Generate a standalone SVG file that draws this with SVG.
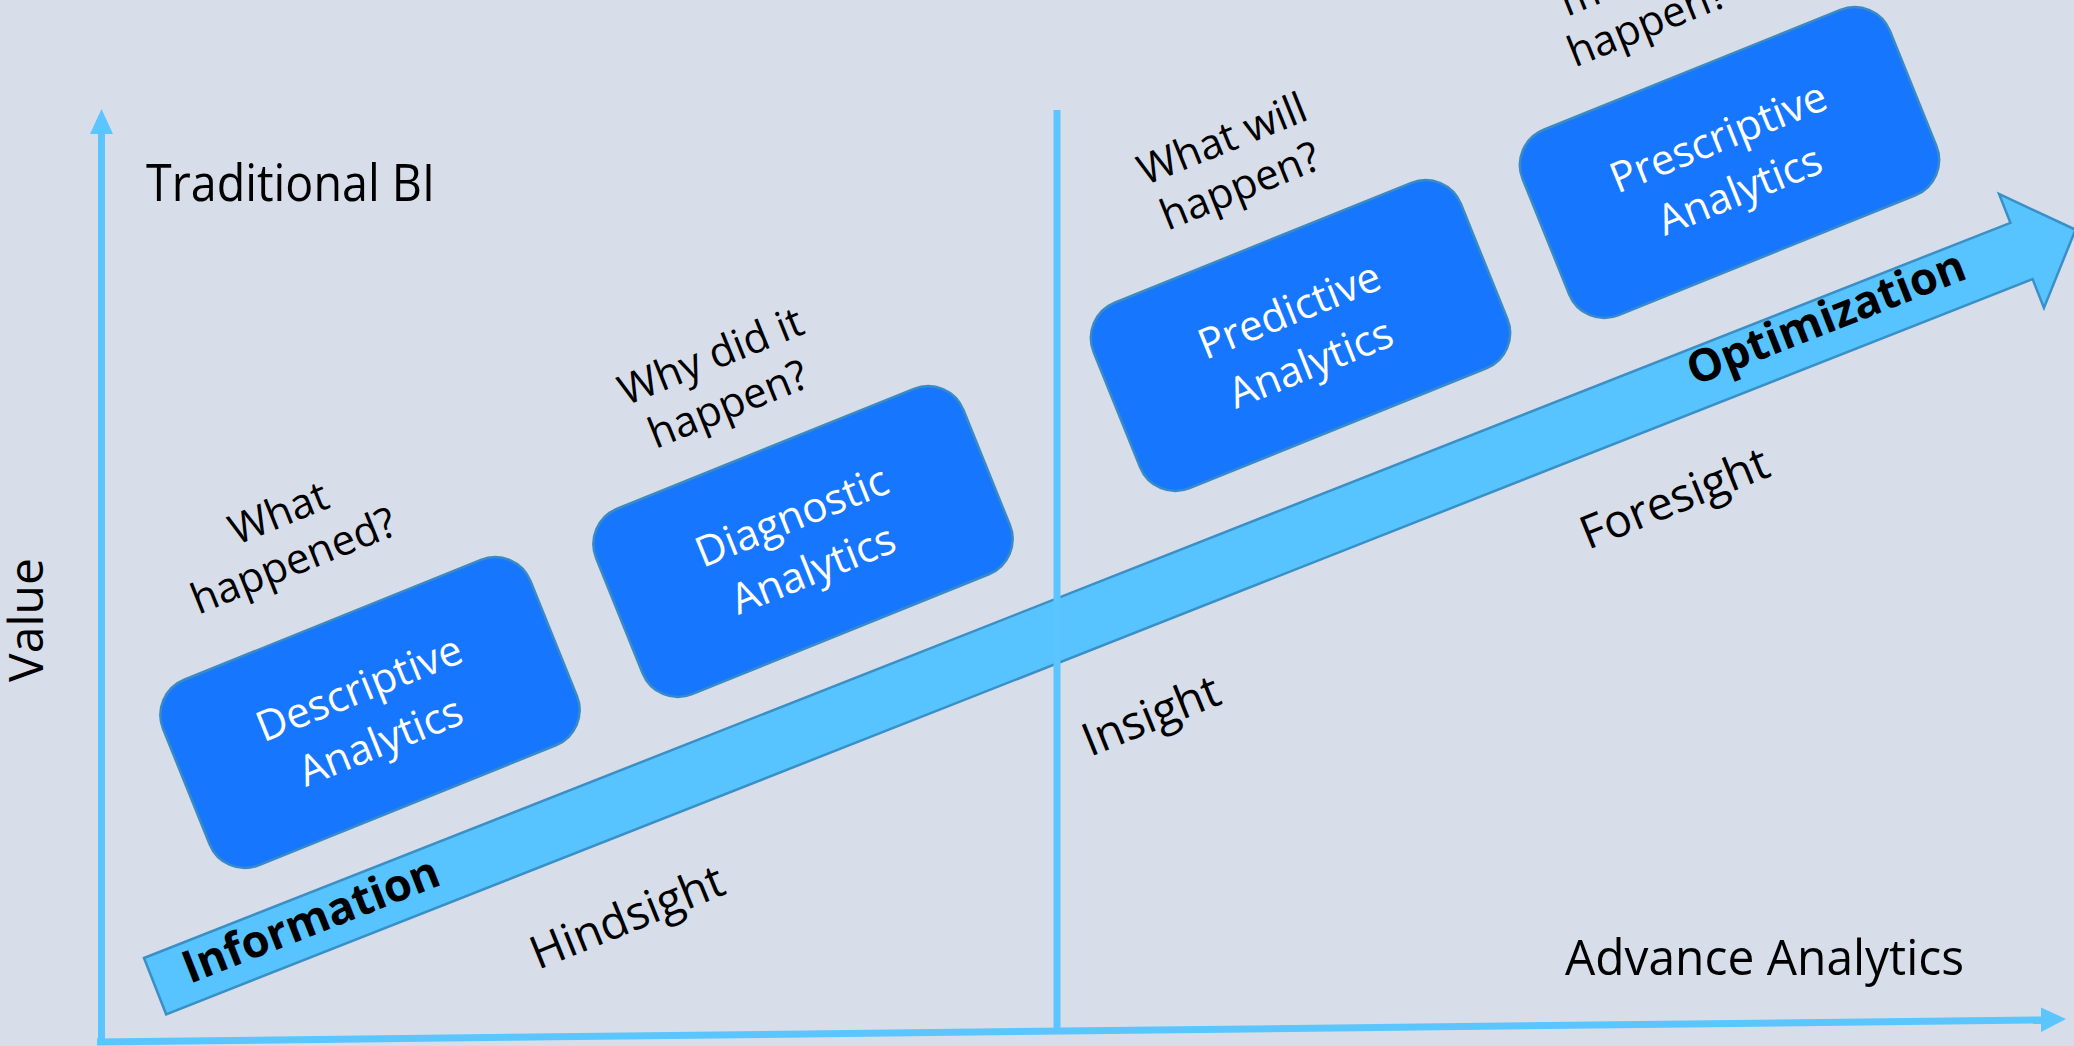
<svg xmlns="http://www.w3.org/2000/svg" width="2074" height="1046" viewBox="0 0 2074 1046">
<style>
text { font-family: "Open Sans", "Noto Sans", "Liberation Sans", sans-serif; }
.lbl { font-size: 46px; fill: #000; }
.q { font-size: 42px; fill: #000; text-anchor: middle; }
.bt { font-size: 42px; fill: #fff; text-anchor: middle; }
.box { fill: #1677FE; stroke: #3A8AC6; stroke-width: 2.5; }
.ax { stroke: #5AC5FF; stroke-width: 7; fill: none; }
.axh { fill: #5AC5FF; }
.band { fill: #57C3FF; stroke: #3A90C6; stroke-width: 2.5; stroke-linejoin: miter; }
.bold { font-size: 45px; font-weight: bold; fill: #000; }
</style>
<rect x="0" y="0" width="2074" height="1046" fill="#D7DEEA"/>

<g id="growth-arrow" transform="translate(144,958) rotate(-21.5)">
  <polygon class="band" points="0,0 2006,0 2006,-31 2064,30.25 2006,91.5 2006,60.5 0,60.5"/>
  <text class="bold" x="33" y="41">Information</text>
  <text class="bold" x="1652" y="36">Optimization</text>
</g>

<g id="connectors">
  <line class="ax" x1="1057" y1="110" x2="1057" y2="1032"/>
  <line class="ax" x1="101.5" y1="130" x2="101.5" y2="1045"/>
  <polygon class="axh" points="101.5,109 113,134 90,134"/>
  <line class="ax" x1="97" y1="1042" x2="2043" y2="1020"/>
  <polygon class="axh" points="2066,1019 2041,1007.5 2041,1032"/>
</g>

<text class="lbl" style="font-size:48px" text-anchor="middle" transform="translate(43,620) rotate(-90)">Value</text>
<text class="lbl" x="146" y="201" style="font-size:52px" textLength="289" lengthAdjust="spacingAndGlyphs">Traditional BI</text>
<text class="lbl" x="1565" y="975" style="font-size:49px" textLength="399" lengthAdjust="spacingAndGlyphs">Advance Analytics</text>
<text class="lbl" transform="translate(538,970) rotate(-22)">Hindsight</text>
<text class="lbl" transform="translate(1090,757) rotate(-22)">Insight</text>
<text class="lbl" transform="translate(1588,550) rotate(-22)">Foresight</text>

<g id="descriptive" transform="translate(370,712.5) rotate(-22)">
  <rect class="box" x="-198" y="-100" width="396" height="200" rx="38"/>
  <text class="bt" x="-1" y="-12">Descriptive</text>
  <text class="bt" x="-1" y="45">Analytics</text>
  <text class="q" x="-10" y="-205">What</text>
  <text class="q" x="-14" y="-155">happened?</text>
</g>

<g id="diagnostic" transform="translate(803,541.5) rotate(-22)">
  <rect class="box" x="-198" y="-100" width="396" height="200" rx="38"/>
  <text class="bt" x="-1" y="-13">Diagnostic</text>
  <text class="bt" x="-1" y="44">Analytics</text>
  <text class="q" x="-16" y="-192">Why did it</text>
  <text class="q" x="-18" y="-141">happen?</text>
</g>

<g id="predictive" transform="translate(1300.5,335.5) rotate(-22)">
  <rect class="box" x="-198" y="-100" width="396" height="200" rx="38"/>
  <text class="bt" x="-1" y="-13">Predictive</text>
  <text class="bt" x="-1" y="44">Analytics</text>
  <text class="q" x="1" y="-197">What will</text>
  <text class="q" x="0" y="-147">happen?</text>
</g>

<g id="prescriptive" transform="translate(1729.5,162.5) rotate(-22)">
  <rect class="box" x="-198" y="-100" width="396" height="200" rx="38"/>
  <text class="bt" x="-1" y="-13">Prescriptive</text>
  <text class="bt" x="-1" y="44">Analytics</text>
  <text class="q" x="-24" y="-196">make it</text>
  <text class="q" x="-24" y="-146">happen?</text>
</g>
</svg>
